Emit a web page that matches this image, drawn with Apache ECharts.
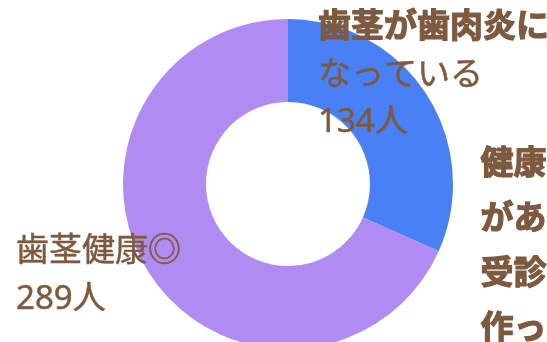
<!DOCTYPE html>
<html>
<head>
<meta charset="utf-8">
<script src="https://cdn.jsdelivr.net/npm/echarts@6/dist/echarts.min.js"></script>
<style>
html,body{margin:0;padding:0;background:#fff;}
#chart{width:547px;height:342px;}
</style>
</head>
<body>
<div id="chart"></div>
<script>
const categories = ['歯茎が歯肉炎に\nなっている', '歯茎健康◎'];
const values = [134, 289];
const unit = '人';
const sideText = '健康な歯茎\nがありま\n受診して\n作って';

const colors = ['#4a80f5', '#b08cf2'];
const brown = '#7d5a3f';
const font = '"Noto Sans", "Noto Sans CJK JP", "Noto Sans CJK SC", sans-serif';

const chart = echarts.init(document.getElementById('chart'), null, {renderer: 'canvas'});

const labelPos = [
  {x: 318, y: 4, lh: 47.5},
  {x: 16, y: 228, lh: 48}
];

chart.setOption({
  animation: false,
  backgroundColor: '#ffffff',
  series: [{
    type: 'pie',
    center: [288, 184],
    radius: [82, 165],
    startAngle: 90,
    clockwise: true,
    avoidLabelOverlap: false,
    labelLine: {show: false},
    itemStyle: {borderWidth: 0},
    data: categories.map((c, i) => ({
      name: c,
      value: values[i],
      itemStyle: {color: colors[i]},
      label: {
        show: true,
        formatter: i === 0
          ? (p) => {
              const parts = p.name.split('\n');
              return '{b|' + parts[0] + '}\n{n|' + parts[1] + '}\n{n|' + p.value + unit + '}';
            }
          : (p) => '{n|' + p.name + '}\n{n|' + p.value + unit + '}',
        rich: {
          b: {fontFamily: font, fontSize: 33, fontWeight: 'bold', color: brown, lineHeight: labelPos[i].lh,
              textBorderColor: brown, textBorderWidth: 1.2},
          n: {fontFamily: font, fontSize: 33, fontWeight: 'normal', color: brown, lineHeight: labelPos[i].lh,
              textBorderColor: brown, textBorderWidth: 0.5}
        }
      }
    }))
  }],
  graphic: [{
    type: 'text',
    left: 480,
    top: 137,
    style: {
      text: sideText,
      fontFamily: font,
      fontSize: 33,
      fontWeight: 'bold',
      fill: brown,
      stroke: brown,
      lineWidth: 1.2,
      lineHeight: 55
    }
  }]
});

chart.setOption({
  series: [{
    labelLayout: function (params) {
      const p = labelPos[params.dataIndex];
      return {x: p.x, y: p.y, align: 'left', verticalAlign: 'top'};
    }
  }]
});
</script>
</body>
</html>
